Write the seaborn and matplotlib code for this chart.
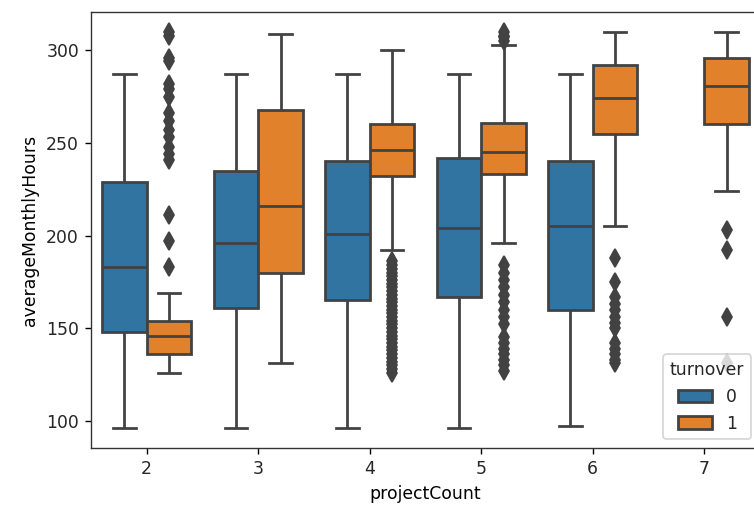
import numpy as np
import pandas as pd
import matplotlib
matplotlib.use("Agg")
import matplotlib.pyplot as plt
import seaborn as sns

# Project counts shown on the x axis
projects = [2, 3, 4, 5, 6, 7]

# turnover = 0 (stayed): box summaries for projects 2-6
stay_projects = [2, 3, 4, 5, 6]
stay_low = [96, 96, 96, 96, 97]
stay_q1 = [148, 161, 165, 167, 160]
stay_med = [183, 196, 201, 204, 205]
stay_q3 = [229, 235, 240, 242, 240]
stay_high = [287, 287, 287, 287, 287]

# turnover = 1 (left): box summaries for projects 2-7
left_projects = [2, 3, 4, 5, 6, 7]
left_low = [126, 131, 192, 196, 205, 224]
left_q1 = [136, 180, 232, 233, 255, 260]
left_med = [146, 216, 246, 245, 274, 281]
left_q3 = [154, 268, 260, 261, 292, 296]
left_high = [169, 309, 300, 303, 310, 310]

# Individual outlying employees (turnover = 1)
left_out_2 = [310, 308, 296, 294, 282, 279, 275, 266, 262, 257, 253, 248, 244,
              241, 211, 197, 183]
left_out_3 = []
left_out_4 = [186, 184, 182, 180, 178, 176, 174, 172, 170, 168, 166, 164, 162,
              160, 158, 156, 154, 152, 150, 148, 146, 144, 142, 140, 138, 136,
              134, 132, 130, 128, 126]
left_out_5 = [305, 307, 308, 310, 184, 180, 176, 172, 168, 164, 160, 156, 152,
              145, 142, 139, 136, 133, 130, 127]
left_out_6 = [188, 175, 167, 163, 160, 156, 153, 150, 142, 139, 136, 133, 131]
left_out_7 = [203, 192, 156, 131]
left_outliers = [left_out_2, left_out_3, left_out_4, left_out_5, left_out_6,
                 left_out_7]

REPEAT = 60


def group_values(lo, q1, med, q3, hi, extra):
    return [lo] + [q1] * REPEAT + [med] * REPEAT + [q3] * REPEAT + [hi] + list(extra)


rows = []
for i, p in enumerate(stay_projects):
    for v in group_values(stay_low[i], stay_q1[i], stay_med[i], stay_q3[i],
                          stay_high[i], []):
        rows.append((p, 0, v))
for i, p in enumerate(left_projects):
    for v in group_values(left_low[i], left_q1[i], left_med[i], left_q3[i],
                          left_high[i], left_outliers[i]):
        rows.append((p, 1, v))

df = pd.DataFrame(rows, columns=["projectCount", "turnover", "averageMonthlyHours"])

line_color = "#424242"
palette = ["#3274a1", "#e1812c"]

plt.rcParams["text.color"] = "#262626"
plt.rcParams["xtick.labelcolor"] = "#262626"
plt.rcParams["ytick.labelcolor"] = "#262626"

fig = plt.figure(figsize=(754 / 124, 510 / 124), dpi=124)
ax = fig.add_axes([91 / 754, 62 / 510, (760 - 91) / 754, (448 - 12) / 510])

sns.boxplot(data=df, x="projectCount", y="averageMonthlyHours", hue="turnover",
            order=projects, hue_order=[0, 1], palette=palette, saturation=1,
            linecolor=line_color, linewidth=1.6, width=0.8, ax=ax,
            flierprops=dict(marker="d", markerfacecolor=line_color,
                            markeredgecolor=line_color, markersize=7.5))

ax.set_yticks([100, 150, 200, 250, 300])
for side in ax.spines.values():
    side.set_color("#333333")
ax.legend(title="turnover", loc="lower right")
for patch in ax.get_legend().get_patches():
    patch.set_edgecolor(line_color)

fig.savefig("out.png", dpi=124)
